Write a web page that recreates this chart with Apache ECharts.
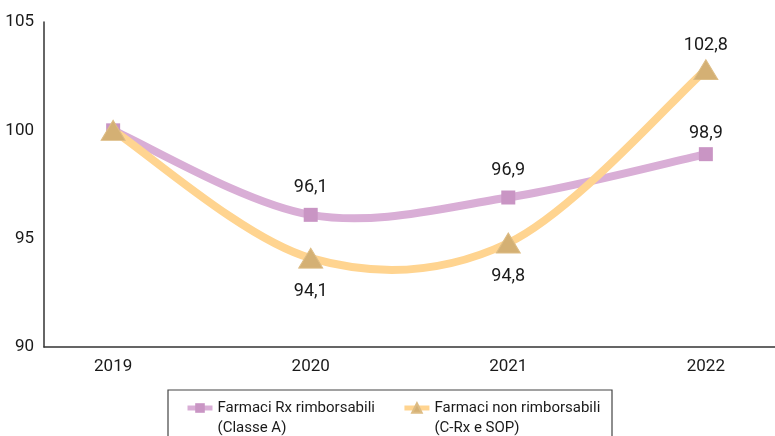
<!DOCTYPE html>
<html>
<head>
<meta charset="utf-8">
<script src="https://cdn.jsdelivr.net/npm/echarts@6/dist/echarts.min.js"></script>
<style>
  html, body { margin: 0; padding: 0; background: #fff; }
  #chart { width: 775px; height: 436px; }
</style>
</head>
<body>
<div id="chart"></div>
<script>
// dati
const years = ['2019', '2020', '2021', '2022'];
const rxRimborsabili = [100, 96.1, 96.9, 98.9];
const nonRimborsabili = [100, 94.1, 94.8, 102.8];
const yTicks = [90, 95, 100, 105];
const seriesNames = ['Farmaci Rx rimborsabili\n(Classe A)', 'Farmaci non rimborsabili\n(C-Rx e SOP)'];

const FONT = "Roboto, 'Noto Sans', sans-serif";
const last = years.length - 1;

function fmt(v) {
  return v.toFixed(1).replace('.', ',');
}

// curva morbida tipo Excel (può scendere sotto i punti, a differenza di smooth:true)
function smoothCurve(values, color, z) {
  return {
    type: 'custom',
    silent: true,
    z: z,
    data: values.map((v, i) => [i, v]),
    renderItem: function (params, api) {
      const i = params.dataIndex;
      if (i >= values.length - 1) return null;
      const pt = k => {
        k = Math.max(0, Math.min(values.length - 1, k));
        return api.coord([k, values[k]]);
      };
      const p0 = pt(i - 1), p1 = pt(i), p2 = pt(i + 1), p3 = pt(i + 2);
      return {
        type: 'bezierCurve',
        shape: {
          x1: p1[0], y1: p1[1],
          x2: p2[0], y2: p2[1],
          cpx1: p1[0] + (p2[0] - p0[0]) / 6,
          cpy1: p1[1] + (p2[1] - p0[1]) / 6,
          cpx2: p2[0] - (p3[0] - p1[0]) / 6,
          cpy2: p2[1] - (p3[1] - p1[1]) / 6
        },
        style: { stroke: color, lineWidth: 8, fill: null, lineCap: 'round' }
      };
    }
  };
}

let myChart = echarts.init(document.getElementById('chart'));

let option = {
  animation: false,
  grid: { left: 44, right: 0, top: 22, bottom: 89 },
  xAxis: {
    type: 'value',
    min: -0.35,
    max: 3.35,
    axisLine: { show: true, onZero: false, lineStyle: { color: '#333', width: 1.5 } },
    axisTick: { show: false },
    splitLine: { show: false },
    axisLabel: {
      customValues: years.map((y, i) => i),
      formatter: v => years[Math.round(v)],
      color: '#1a1a1a',
      fontSize: 17,
      fontFamily: FONT,
      margin: 11
    }
  },
  yAxis: {
    type: 'value',
    min: yTicks[0],
    max: yTicks[yTicks.length - 1],
    interval: 5,
    axisLine: { show: true, onZero: false, lineStyle: { color: '#333', width: 1.5 } },
    axisTick: { show: false },
    splitLine: { show: false },
    axisLabel: { color: '#1a1a1a', fontSize: 17, fontFamily: FONT, margin: 10 }
  },
  legend: {
    left: 180,
    top: 373,
    itemGap: 27,
    itemWidth: 25,
    itemHeight: 12,
    data: seriesNames,
    lineStyle: { width: 5, opacity: 1 },
    formatter: name => '\n' + name,
    textStyle: {
      color: '#1a1a1a',
      fontSize: 15,
      fontFamily: FONT,
      lineHeight: 20
    }
  },
  graphic: [{
    type: 'rect',
    shape: { x: 168, y: 390, width: 444, height: 60 },
    style: { fill: 'none', stroke: '#444', lineWidth: 1.2 },
    silent: true
  }],
  series: [
    smoothCurve(rxRimborsabili, '#D9AED6', 2),
    smoothCurve(nonRimborsabili, '#FFD490', 3),
    {
      name: seriesNames[0],
      type: 'line',
      data: rxRimborsabili.map((v, i) => ({
        value: [i, v],
        label: { distance: i === last ? 5 : 11 }
      })),
      lineStyle: { color: '#D9AED6', width: 8, opacity: 0 },
      itemStyle: { color: '#C995C4' },
      symbol: 'rect',
      symbolSize: 14,
      label: {
        show: true,
        position: 'top',
        color: '#1a1a1a',
        fontSize: 18,
        fontFamily: FONT,
        formatter: p => p.dataIndex === 0 ? '' : fmt(p.value[1])
      },
      z: 4
    },
    {
      name: seriesNames[1],
      type: 'line',
      data: nonRimborsabili.map((v, i) => ({
        value: [i, v],
        label: { position: v > 100 ? 'top' : 'bottom', distance: v > 100 ? 5 : 14 }
      })),
      lineStyle: { color: '#FFD490', width: 8, opacity: 0 },
      itemStyle: { color: '#D4B074', borderColor: '#DDBC84', borderWidth: 1 },
      symbol: 'triangle',
      symbolSize: [24, 20],
      label: {
        show: true,
        color: '#1a1a1a',
        fontSize: 18,
        fontFamily: FONT,
        formatter: p => p.dataIndex === 0 ? '' : fmt(p.value[1])
      },
      z: 5
    }
  ]
};

myChart.setOption(option);
</script>
</body>
</html>
